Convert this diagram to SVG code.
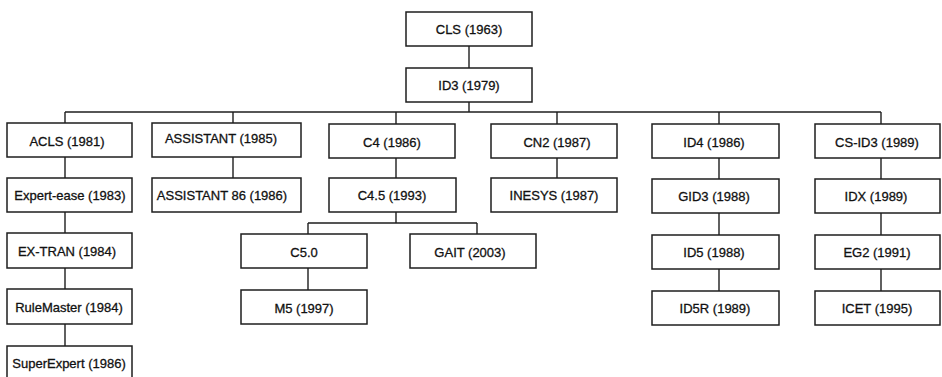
<svg xmlns="http://www.w3.org/2000/svg" width="942" height="377" viewBox="0 0 942 377">
  <style>
    .box { fill: #ffffff; stroke: #1e1e1e; stroke-width: 1.5; }
    .lbl { font-family: "Liberation Sans", Arial, sans-serif; font-size: 13px; fill: #111111; stroke: #111111; stroke-width: 0.3; text-anchor: middle; }
    .wire { fill: none; stroke: #1e1e1e; stroke-width: 1.4; }
  </style>
  <rect x="0" y="0" width="942" height="377" fill="#ffffff"/>

  <!-- tree connectors -->
  <g id="connectors" class="wire">
    <path d="M469 46 V68"/>
    <path d="M469 102 V112"/>
    <path d="M65 112 H881"/>
    <path d="M65 112 V123 M233 112 V123 M396 112 V124 M557 112 V124 M719 112 V124 M881 112 V124"/>
    <!-- ACLS lineage -->
    <path d="M65 157 V178 M65 212 V233 M65 268 V289 M65 324 V346"/>
    <!-- ASSISTANT lineage -->
    <path d="M233 157 V178"/>
    <!-- C4 lineage -->
    <path d="M396 158 V178 M396 212 V223 M308 223 H477 M308 223 V234 M477 223 V234 M308 268 V290"/>
    <!-- CN2 lineage -->
    <path d="M557 158 V178"/>
    <!-- ID4 lineage -->
    <path d="M719 158 V179 M719 213 V235 M719 269 V291"/>
    <!-- CS-ID3 lineage -->
    <path d="M881 158 V179 M881 213 V235 M881 269 V291"/>
  </g>

  <g id="cls"><rect class="box" x="406" y="12" width="126" height="34"/><text class="lbl" x="469" y="34">CLS (1963)</text></g>
  <g id="id3"><rect class="box" x="406" y="68" width="126" height="34"/><text class="lbl" x="469" y="90">ID3 (1979)</text></g>

  <g id="acls"><rect class="box" x="7" y="123" width="125" height="34"/><text class="lbl" x="67" y="146">ACLS (1981)</text></g>
  <g id="expert-ease"><rect class="box" x="7" y="178" width="125" height="34"/><text class="lbl" x="70" y="200">Expert-ease (1983)</text></g>
  <g id="ex-tran"><rect class="box" x="7" y="233" width="125" height="35"/><text class="lbl" x="67" y="256">EX-TRAN (1984)</text></g>
  <g id="rulemaster"><rect class="box" x="7" y="289" width="125" height="35"/><text class="lbl" x="69" y="312">RuleMaster (1984)</text></g>
  <g id="superexpert"><rect class="box" x="7" y="346" width="125" height="36"/><text class="lbl" x="69" y="368">SuperExpert (1986)</text></g>

  <g id="assistant"><rect class="box" x="152" y="123" width="149" height="34"/><text class="lbl" x="221" y="143">ASSISTANT (1985)</text></g>
  <g id="assistant86"><rect class="box" x="152" y="178" width="149" height="34"/><text class="lbl" x="222" y="200">ASSISTANT 86 (1986)</text></g>

  <g id="c4"><rect class="box" x="329" y="124" width="126" height="34"/><text class="lbl" x="392" y="147">C4 (1986)</text></g>
  <g id="c45"><rect class="box" x="329" y="178" width="127" height="34"/><text class="lbl" x="392" y="200">C4.5 (1993)</text></g>
  <g id="c50"><rect class="box" x="241" y="234" width="126" height="34"/><text class="lbl" x="304" y="257">C5.0</text></g>
  <g id="gait"><rect class="box" x="410" y="234" width="126" height="34"/><text class="lbl" x="470" y="257">GAIT (2003)</text></g>
  <g id="m5"><rect class="box" x="241" y="290" width="126" height="34"/><text class="lbl" x="304" y="313">M5 (1997)</text></g>

  <g id="cn2"><rect class="box" x="491" y="124" width="126" height="34"/><text class="lbl" x="557" y="147">CN2 (1987)</text></g>
  <g id="inesys"><rect class="box" x="491" y="178" width="126" height="34"/><text class="lbl" x="554" y="200">INESYS (1987)</text></g>

  <g id="id4"><rect class="box" x="652" y="124" width="127" height="34"/><text class="lbl" x="714" y="147">ID4 (1986)</text></g>
  <g id="gid3"><rect class="box" x="652" y="179" width="127" height="34"/><text class="lbl" x="714" y="201">GID3 (1988)</text></g>
  <g id="id5"><rect class="box" x="652" y="235" width="127" height="34"/><text class="lbl" x="714" y="257">ID5 (1988)</text></g>
  <g id="id5r"><rect class="box" x="652" y="291" width="127" height="34"/><text class="lbl" x="715" y="313">ID5R (1989)</text></g>

  <g id="cs-id3"><rect class="box" x="815" y="124" width="125" height="34"/><text class="lbl" x="877" y="147">CS-ID3 (1989)</text></g>
  <g id="idx"><rect class="box" x="815" y="179" width="125" height="34"/><text class="lbl" x="876" y="201">IDX (1989)</text></g>
  <g id="eg2"><rect class="box" x="815" y="235" width="125" height="34"/><text class="lbl" x="877" y="257">EG2 (1991)</text></g>
  <g id="icet"><rect class="box" x="815" y="291" width="125" height="34"/><text class="lbl" x="877" y="313">ICET (1995)</text></g>
</svg>
